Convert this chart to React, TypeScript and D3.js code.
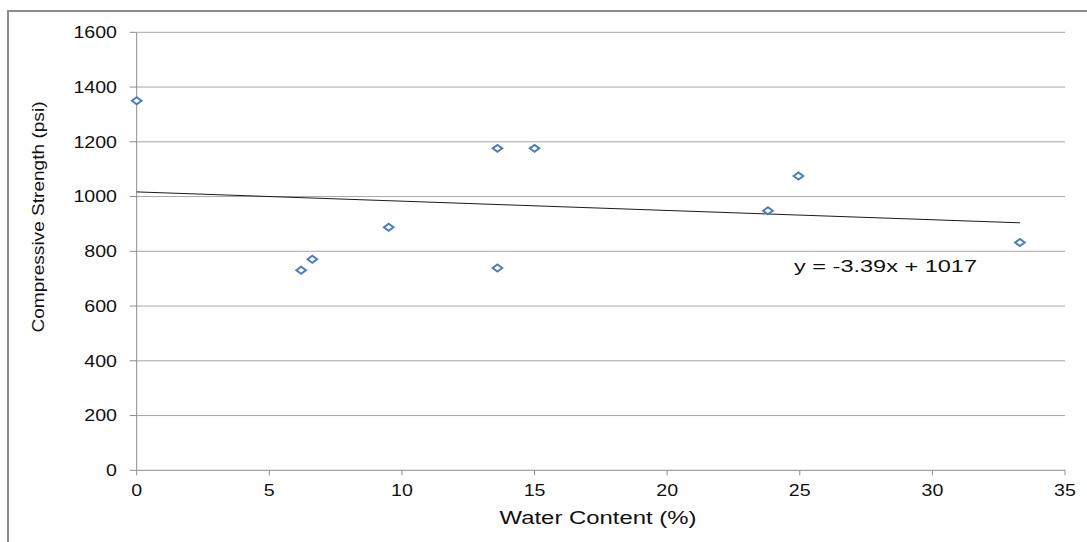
import { useEffect, useRef } from "react"
import * as d3 from "d3"

const waterContent = [0, 6.2, 6.62, 9.5, 13.6, 13.6, 15, 23.8, 24.95, 33.3]
const strength = [1350, 731, 771, 888, 1176, 739, 1176, 948, 1075, 832]
const xTicks = [0, 5, 10, 15, 20, 25, 30, 35]
const yTicks = [0, 200, 400, 600, 800, 1000, 1200, 1400, 1600]
const trendSlope = -3.39
const trendIntercept = 1017
const trendLabel = "y = -3.39x + 1017"

const W = 1087
const H = 542
const left = 136.7
const right = 1065
const top = 32.3
const bottom = 470.3
const FONT = "'Liberation Sans', Arial, sans-serif"

const App = () => {
  const ref = useRef<SVGSVGElement>(null)

  useEffect(() => {
    if (!ref.current) return
    const svg = d3.select(ref.current)
    svg.selectAll("*").remove()

    const x = d3.scaleLinear().domain([0, 35]).range([left, right])
    const y = d3.scaleLinear().domain([0, 1600]).range([bottom, top])

    // outer frame (runs off the picture on the right and bottom)
    svg
      .append("rect")
      .attr("x", 8)
      .attr("y", 11)
      .attr("width", 1200)
      .attr("height", 700)
      .attr("fill", "white")
      .attr("stroke", "#8c8c8c")
      .attr("stroke-width", 2)

    // gridlines
    svg
      .append("g")
      .selectAll("line")
      .data(yTicks.filter((d) => d > 0))
      .join("line")
      .attr("x1", left)
      .attr("x2", right)
      .attr("y1", (d) => y(d))
      .attr("y2", (d) => y(d))
      .attr("stroke", "#a6a6a6")
      .attr("stroke-width", 1)

    // y axis
    const yAxis = svg.append("g")
    yAxis
      .append("line")
      .attr("x1", left)
      .attr("x2", left)
      .attr("y1", top)
      .attr("y2", bottom)
      .attr("stroke", "#8c8c8c")
    yAxis
      .selectAll("line.tick")
      .data(yTicks)
      .join("line")
      .attr("class", "tick")
      .attr("x1", left - 7)
      .attr("x2", left)
      .attr("y1", (d) => y(d))
      .attr("y2", (d) => y(d))
      .attr("stroke", "#8c8c8c")
    yAxis
      .selectAll("text")
      .data(yTicks)
      .join("text")
      .attr("x", 117)
      .attr("y", (d) => y(d) + 5.8)
      .attr("text-anchor", "end")
      .attr("font-family", FONT)
      .attr("font-size", 16)
      .attr("fill", "#111")
      .attr("textLength", (d) => String(d).length * 10.9)
      .attr("lengthAdjust", "spacingAndGlyphs")
      .text((d) => d)

    // x axis
    const xAxis = svg.append("g")
    xAxis
      .append("line")
      .attr("x1", left)
      .attr("x2", right)
      .attr("y1", bottom)
      .attr("y2", bottom)
      .attr("stroke", "#8c8c8c")
    xAxis
      .selectAll("line.tick")
      .data(xTicks)
      .join("line")
      .attr("class", "tick")
      .attr("x1", (d) => x(d))
      .attr("x2", (d) => x(d))
      .attr("y1", bottom)
      .attr("y2", bottom + 5)
      .attr("stroke", "#8c8c8c")
    xAxis
      .selectAll("text")
      .data(xTicks)
      .join("text")
      .attr("x", (d) => x(d))
      .attr("y", 495.5)
      .attr("text-anchor", "middle")
      .attr("font-family", FONT)
      .attr("font-size", 16)
      .attr("fill", "#111")
      .attr("textLength", (d) => String(d).length * 10.9)
      .attr("lengthAdjust", "spacingAndGlyphs")
      .text((d) => d)

    // axis titles
    svg
      .append("text")
      .attr("transform", `translate(44,217) rotate(-90)`)
      .attr("text-anchor", "middle")
      .attr("font-family", FONT)
      .attr("font-size", 17)
      .attr("fill", "#111")
      .attr("textLength", 231)
      .attr("lengthAdjust", "spacingAndGlyphs")
      .text("Compressive  Strength (psi)")
    svg
      .append("text")
      .attr("x", 598)
      .attr("y", 524)
      .attr("text-anchor", "middle")
      .attr("font-family", FONT)
      .attr("font-size", 17.5)
      .attr("fill", "#111")
      .attr("textLength", 197)
      .attr("lengthAdjust", "spacingAndGlyphs")
      .text("Water Content (%)")

    // trend line
    const xMax = d3.max(waterContent) as number
    svg
      .append("line")
      .attr("x1", x(0))
      .attr("y1", y(trendIntercept))
      .attr("x2", x(xMax))
      .attr("y2", y(trendIntercept + trendSlope * xMax))
      .attr("stroke", "#1a1a1a")
      .attr("stroke-width", 1)

    svg
      .append("text")
      .attr("x", 794)
      .attr("y", 272)
      .attr("font-family", FONT)
      .attr("font-size", 16.5)
      .attr("fill", "#111")
      .attr("textLength", 183)
      .attr("lengthAdjust", "spacingAndGlyphs")
      .text(trendLabel)

    // points
    const pts = waterContent.map((w, i) => [w, strength[i]])
    svg
      .append("g")
      .selectAll("path")
      .data(pts)
      .join("path")
      .attr("transform", (d) => `translate(${x(d[0])},${y(d[1])})`)
      .attr("d", "M-4.8,0L0,-3.5L4.8,0L0,3.5Z")
      .attr("fill", "white")
      .attr("stroke", "#4a7ebb")
      .attr("stroke-width", 2)
  }, [])

  return (
    <svg
      ref={ref}
      width={W}
      height={H}
      style={{ position: "absolute", left: 0, top: 0, background: "white" }}
    />
  )
}

export default App
